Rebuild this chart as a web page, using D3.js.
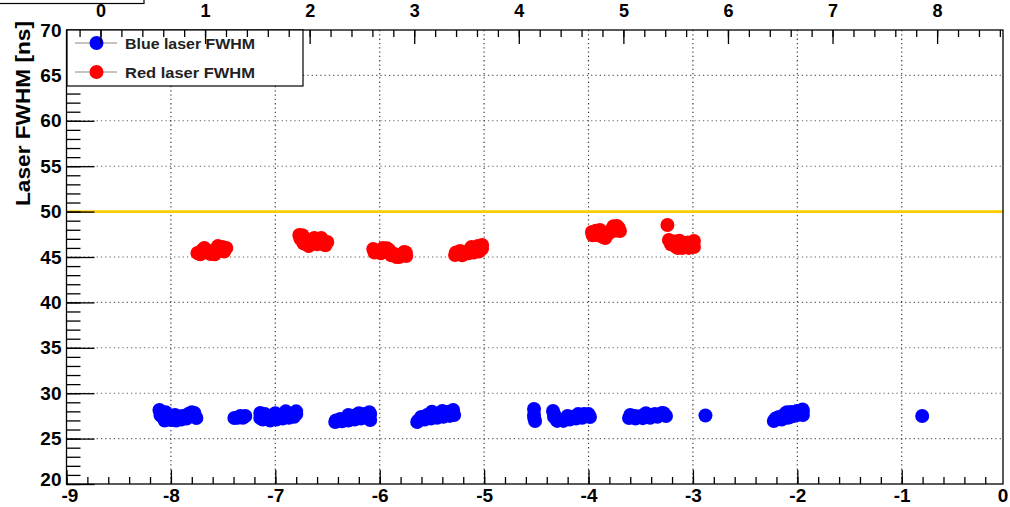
<!DOCTYPE html>
<html>
<head>
<meta charset="utf-8">
<script src="https://cdn.jsdelivr.net/npm/d3@7/dist/d3.min.js"></script>
<style>
  html, body { margin: 0; padding: 0; background: #fff; }
  svg { display: block; }
  text { font-family: "Liberation Sans", Arial, sans-serif; }
</style>
</head>
<body>
<svg id="chart" width="1010" height="507"></svg>
<script>
// ---- Data ----
const blueX = [
  -8.110, -8.091, -8.043, -7.986, -7.938, -7.890, -7.833, -7.775, -7.756,
  -8.100, -8.060, -8.000, -7.950, -7.900, -7.850, -7.800, -7.780, -8.050, -7.960,
  -7.392, -7.335, -7.287, -7.360, -7.310,
  -7.144, -7.144, -7.086, -7.029, -6.971, -6.914, -6.856, -6.799,
  -7.120, -7.050, -6.990, -6.930, -6.870, -6.820, -6.800, -6.900, -7.000, -7.100,
  -6.426, -6.378, -6.321, -6.263, -6.206, -6.148, -6.091, -6.091,
  -6.420, -6.360, -6.300, -6.240, -6.180, -6.120, -6.100, -6.200, -6.300,
  -5.641, -5.603, -5.545, -5.488, -5.421, -5.354, -5.297, -5.287,
  -5.630, -5.570, -5.510, -5.450, -5.390, -5.330, -5.300, -5.400, -5.500,
  -4.522, -4.522, -4.512, -4.520,
  -4.340, -4.330, -4.273, -4.215, -4.158, -4.100, -4.043, -3.986,
  -4.330, -4.300, -4.240, -4.180, -4.120, -4.060, -4.000, -4.100, -4.200,
  -3.612, -3.555, -3.498, -3.431, -3.364, -3.297, -3.258,
  -3.600, -3.550, -3.480, -3.410, -3.340, -3.280, -3.450,
  -2.880,
  -2.225, -2.177, -2.120, -2.062, -2.005, -1.947, -1.947, -2.072,
  -2.210, -2.150, -2.090, -2.030, -1.960, -2.100, -2.000, -1.950,
  -0.804
];
const blueY = [
  28.15, 27.49, 27.27, 27.49, 27.27, 27.49, 27.71, 27.82, 27.27,
  27.60, 27.00, 27.05, 27.00, 27.10, 27.20, 27.90, 27.60, 27.90, 27.60,
  27.27, 27.49, 27.49, 27.30, 27.30,
  27.27, 27.82, 27.49, 27.27, 27.49, 27.71, 27.49, 27.71,
  27.10, 27.00, 27.10, 27.20, 27.30, 27.40, 28.00, 28.00, 27.80, 27.70,
  26.83, 27.16, 27.27, 27.49, 27.49, 27.71, 27.71, 27.05,
  27.00, 26.90, 27.00, 27.10, 27.20, 27.30, 27.90, 27.80, 27.60,
  26.83, 27.38, 27.60, 27.71, 27.82, 27.93, 28.15, 27.60,
  27.00, 27.10, 27.20, 27.30, 27.40, 27.50, 27.90, 28.05, 27.95,
  28.26, 27.60, 26.94, 27.27,
  28.04, 27.38, 27.05, 27.16, 27.38, 27.49, 27.71, 27.38,
  27.70, 26.95, 26.95, 27.10, 27.20, 27.30, 27.70, 27.70, 27.50,
  27.27, 27.49, 27.49, 27.60, 27.71, 27.82, 27.49,
  27.60, 27.20, 27.25, 27.30, 27.40, 27.80, 27.80,
  27.54,
  26.94, 27.38, 27.71, 27.93, 28.04, 28.04, 27.60, 27.38,
  27.20, 27.10, 27.30, 27.50, 27.80, 27.90, 27.60, 28.20,
  27.49
];
const redX = [
  -7.746, -7.699, -7.651, -7.603, -7.555, -7.507, -7.469, -7.620, -7.530,
  -7.720, -7.580, -7.490, -7.680, -7.550,
  -6.770, -6.742, -6.703, -6.665, -6.627, -6.579, -6.541, -6.502,
  -6.760, -6.730, -6.680, -6.600, -6.560, -6.520, -6.740,
  -6.062, -6.014, -5.967, -5.909, -5.861, -5.813, -5.766, -5.746,
  -6.050, -5.990, -5.940, -5.890, -5.840, -5.780, -5.750, -5.930,
  -5.278, -5.230, -5.182, -5.134, -5.086, -5.038, -5.019,
  -5.270, -5.210, -5.150, -5.100, -5.050, -5.020, -5.120, -5.060,
  -3.967, -3.919, -3.861, -3.813, -3.775, -3.727, -3.699, -3.890,
  -3.960, -3.930, -3.880, -3.840, -3.800, -3.740, -3.710, -3.760, -3.850,
  -3.244,
  -3.230, -3.182, -3.124, -3.067, -3.010, -2.990, -3.143,
  -3.210, -3.160, -3.100, -3.040, -2.990, -3.050, -3.180, -3.130
];
const redY = [
  45.44, 45.77, 45.50, 45.66, 45.88, 46.10, 46.00, 45.33, 45.90,
  45.30, 45.30, 45.60, 46.00, 46.20,
  47.42, 46.87, 46.43, 46.76, 47.09, 46.87, 46.43, 46.65,
  47.00, 46.50, 46.20, 46.40, 47.10, 46.30, 47.40,
  45.88, 45.66, 45.99, 45.77, 45.33, 45.00, 45.55, 45.11,
  45.50, 45.40, 45.60, 45.20, 45.00, 45.30, 45.50, 45.95,
  45.22, 45.66, 45.44, 45.88, 45.77, 45.99, 46.32,
  45.50, 45.20, 45.40, 45.50, 45.60, 45.90, 46.10, 46.20,
  47.75, 47.42, 47.20, 47.53, 48.08, 48.41, 47.86, 47.97,
  47.40, 47.90, 47.30, 47.10, 47.70, 47.90, 48.20, 48.40, 47.60,
  48.52,
  46.87, 46.32, 46.54, 46.21, 46.32, 46.76, 45.99,
  46.40, 46.10, 46.00, 46.00, 46.10, 46.60, 46.70, 46.80
];
const thresholdValue = 50;
const xTickValues = [-9, -8, -7, -6, -5, -4, -3, -2, -1, 0];
const yTickValues = [20, 25, 30, 35, 40, 45, 50, 55, 60, 65, 70];
const topTickValues = [0, 1, 2, 3, 4, 5, 6, 7, 8];
const legendLabels = ["Blue laser FWHM", "Red laser FWHM"];
const yTitle = "Laser FWHM [ns]";

// ---- Layout ----
const L = 66.5, R = 1003, T = 30, B = 484;
const MR = 7;
const svg = d3.select("#chart");

const x = d3.scaleLinear().domain([-9, -0.03]).range([L, R]);
const xTop = d3.scaleLinear().domain([-0.325, 8.63]).range([L, R]);
const y = d3.scaleLinear().domain([20, 70]).range([B, T]);
const fmt = d => String(d);

// partial title box in the top-left corner
svg.append("rect").attr("x", -2).attr("y", -2).attr("width", 146).attr("height", 5.5)
  .attr("fill", "#fff").attr("stroke", "#000").attr("stroke-width", 1.2);

// grid
const gridV = xTickValues.filter(v => v > -9 && v < 0);
const gridH = yTickValues.filter(v => v > 20 && v < 70);
svg.append("g").selectAll("line").data(gridV).join("line")
  .attr("x1", d => x(d)).attr("x2", d => x(d)).attr("y1", T).attr("y2", B)
  .attr("stroke", "#000").attr("stroke-width", 1.2).attr("stroke-dasharray", "1.3,3")
  .attr("opacity", 0.75);
svg.append("g").selectAll("line").data(gridH).join("line")
  .attr("x1", L).attr("x2", R).attr("y1", d => y(d)).attr("y2", d => y(d))
  .attr("stroke", "#000").attr("stroke-width", 1.1).attr("stroke-dasharray", "1.3,3")
  .attr("opacity", 0.6);

// threshold line
svg.append("line").attr("x1", L).attr("x2", R)
  .attr("y1", y(thresholdValue)).attr("y2", y(thresholdValue))
  .attr("stroke", "#ffcc00").attr("stroke-width", 2.6);

// points
const blue = blueX.map((v, i) => ({ x: v, y: blueY[i] }));
const red = redX.map((v, i) => ({ x: v, y: redY[i] }));
svg.append("g").selectAll("circle").data(blue).join("circle")
  .attr("cx", d => x(d.x)).attr("cy", d => y(d.y)).attr("r", MR).attr("fill", "#0000ff");
svg.append("g").selectAll("circle").data(red).join("circle")
  .attr("cx", d => x(d.x)).attr("cy", d => y(d.y)).attr("r", MR).attr("fill", "#ff0000");

// frame
svg.append("rect").attr("x", L).attr("y", T).attr("width", R - L).attr("height", B - T)
  .attr("fill", "none").attr("stroke", "#000").attr("stroke-width", 1.3);

function styleAxis(g, size) {
  g.select(".domain").remove();
  g.selectAll(".tick line").attr("stroke", "#000").attr("stroke-width", 1.3);
  g.selectAll("text").attr("font-family", "'Liberation Sans', Arial, sans-serif")
    .attr("font-weight", "bold").attr("font-size", size).attr("fill", "#000");
}

// bottom axis
const xMinor = d3.range(-9, 0.001, 0.2).map(v => +v.toFixed(2)).filter(v => x(v) <= R + 0.5);
const gxm = svg.append("g").attr("transform", `translate(0,${B})`)
  .call(d3.axisBottom(x).tickValues(xMinor).tickSize(-7).tickFormat(""));
styleAxis(gxm, 18);
const gx = svg.append("g").attr("transform", `translate(0,${B})`)
  .call(d3.axisBottom(x).tickValues(xTickValues).tickSize(-14).tickPadding(5).tickFormat(fmt));
styleAxis(gx, 19);
gx.selectAll(".tick").filter(d => d === 0).select("line").remove();
gx.selectAll(".tick").filter(d => d === 0).attr("transform", `translate(${R},0)`);
gx.selectAll(".tick").filter(d => d === -9).select("text").attr("dx", 3);

// left axis
const yMinor = d3.range(20, 70.001, 1);
const gym = svg.append("g").attr("transform", `translate(${L},0)`)
  .call(d3.axisLeft(y).tickValues(yMinor).tickSize(-14).tickFormat(""));
styleAxis(gym, 18);
const gy = svg.append("g").attr("transform", `translate(${L},0)`)
  .call(d3.axisLeft(y).tickValues(yTickValues).tickSize(-28).tickPadding(5).tickFormat(fmt));
styleAxis(gy, 19);
gy.selectAll(".tick").filter(d => d === 20).select("text").attr("dy", "0.1em");

// y title
svg.append("text")
  .attr("transform", `translate(30,${T - 9}) rotate(-90)`)
  .attr("text-anchor", "end")
  .attr("font-weight", "bold").attr("font-size", 20.5)
  .attr("textLength", 185).attr("lengthAdjust", "spacingAndGlyphs")
  .text(yTitle);

// legend
const lg = svg.append("g");
lg.append("rect").attr("x", L + 0.5).attr("y", T).attr("width", 236).attr("height", 56)
  .attr("fill", "#fff").attr("stroke", "#000").attr("stroke-width", 1.2);
const legendColors = ["#0000ff", "#ff0000"];
const legendY = [43, 72];
legendLabels.forEach((lab, i) => {
  lg.append("line").attr("x1", 75).attr("x2", 117).attr("y1", legendY[i]).attr("y2", legendY[i])
    .attr("stroke", "#888").attr("stroke-width", 1);
  lg.append("circle").attr("cx", 96.5).attr("cy", legendY[i]).attr("r", MR).attr("fill", legendColors[i]);
  lg.append("text").attr("x", 125).attr("y", legendY[i] + 5.5)
    .attr("font-weight", "bold").attr("font-size", 15.5).attr("fill", "#222")
    .attr("textLength", 130).attr("lengthAdjust", "spacingAndGlyphs")
    .text(lab);
});

// top axis
const topMinor = d3.range(-0.2, 8.61, 0.2).map(v => +v.toFixed(2));
const gtm = svg.append("g").attr("transform", `translate(0,${T})`)
  .call(d3.axisTop(xTop).tickValues(topMinor).tickSize(-7).tickFormat(""));
styleAxis(gtm, 18);
const gt = svg.append("g").attr("transform", `translate(0,${T})`)
  .call(d3.axisTop(xTop).tickValues(topTickValues).tickSize(-14).tickPadding(13).tickFormat(fmt));
styleAxis(gt, 18);
</script>
</body>
</html>
